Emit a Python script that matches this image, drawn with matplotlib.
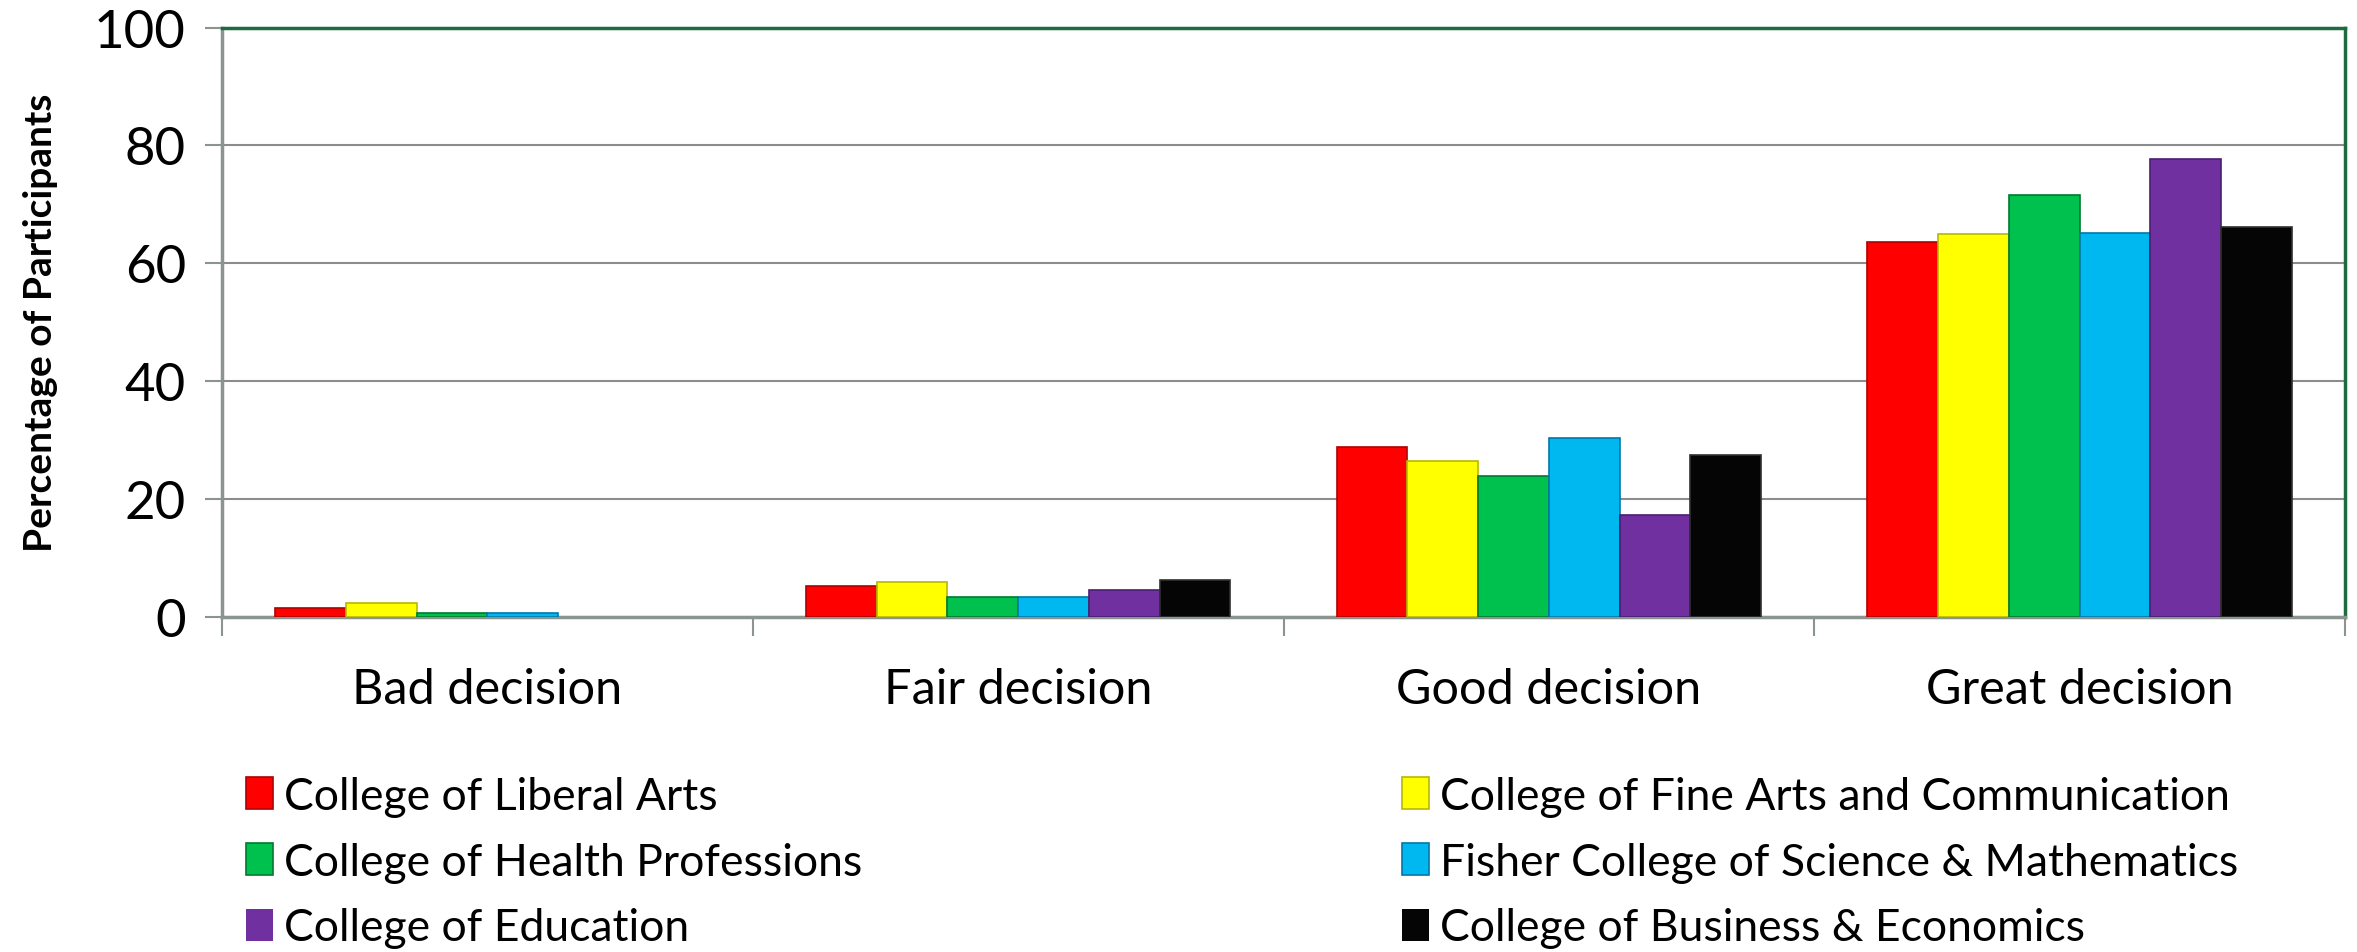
import numpy as np
import matplotlib.pyplot as plt

plt.rcParams['font.family'] = ['Lato', 'DejaVu Sans']

categories = ['Bad decision', 'Fair decision', 'Good decision', 'Great decision']
colleges = [
    'College of Liberal Arts',
    'College of Fine Arts and Communication',
    'College of Health Professions',
    'Fisher College of Science & Mathematics',
    'College of Education',
    'College of Business & Economics',
]
liberal_arts = [1.6, 5.2, 28.9, 63.7]
fine_arts = [2.4, 5.9, 26.4, 64.9]
health = [0.7, 3.4, 23.9, 71.6]
fisher = [0.7, 3.4, 30.3, 65.1]
education = [0.0, 4.6, 17.3, 77.7]
business = [0.0, 6.2, 27.5, 66.2]
yticks = [0, 20, 40, 60, 80, 100]

values = [liberal_arts, fine_arts, health, fisher, education, business]
colors = ['#FF0000', '#FFFF00', '#00C04E', '#00B8F0', '#7030A0', '#050505']
edges = ['#B00000', '#B8B800', '#007A30', '#0078A8', '#4A1E70', '#303030']

fig = plt.figure(figsize=(23.57, 9.53), dpi=100)
ax = fig.add_axes([0.0942, 0.3515, 0.9007, 0.6185])

x = np.arange(len(categories))
width = 0.8 / len(colleges)
bars = []
for i, (vals, c, e) in enumerate(zip(values, colors, edges)):
    lw = [1.2 if v > 0 else 0 for v in vals]
    b = ax.bar(x - 0.4 + width * (i + 0.5), vals, width, color=c,
               edgecolor=e, linewidth=lw, label=colleges[i], zorder=3)
    bars.append(b)

ax.set_xlim(-0.5, len(categories) - 0.5)
ax.set_ylim(0, 100)
ax.set_yticks(yticks)
ax.yaxis.grid(True, color='#8C8C8C', linewidth=1.5, zorder=0)
ax.tick_params(axis='y', labelsize=38, length=12, width=1.5, color='#8C9490', pad=14)

# category labels centred, tick marks on boundaries
ax.set_xticks(x)
ax.set_xticklabels(categories, fontsize=35)
ax.tick_params(axis='x', length=0, pad=36)
ax.set_xticks(np.arange(len(categories) + 1) - 0.5, minor=True)
ax.tick_params(axis='x', which='minor', length=14, width=1.5, color='#8C9490')

for s in ['left', 'bottom']:
    ax.spines[s].set_color('#8C9490')
    ax.spines[s].set_linewidth(2.5)
for s in ['top', 'right']:
    ax.spines[s].set_color('#1E6B40')
    ax.spines[s].set_linewidth(2.5)

ax.set_ylabel('Percentage of Participants', fontsize=28, fontweight='bold', labelpad=26)

handles = [bars[0], bars[2], bars[4], bars[1], bars[3], bars[5]]
labels = [colleges[0], colleges[2], colleges[4], colleges[1], colleges[3], colleges[5]]
fig.legend(handles, labels, loc='upper left', bbox_to_anchor=(0.1045, 0.185),
           ncol=2, frameon=False, fontsize=32, handlelength=0.6, handleheight=0.75,
           handletextpad=0.25, columnspacing=12.15, labelspacing=0.56,
           borderaxespad=0, borderpad=0)

fig.savefig('out.png', dpi=100)
